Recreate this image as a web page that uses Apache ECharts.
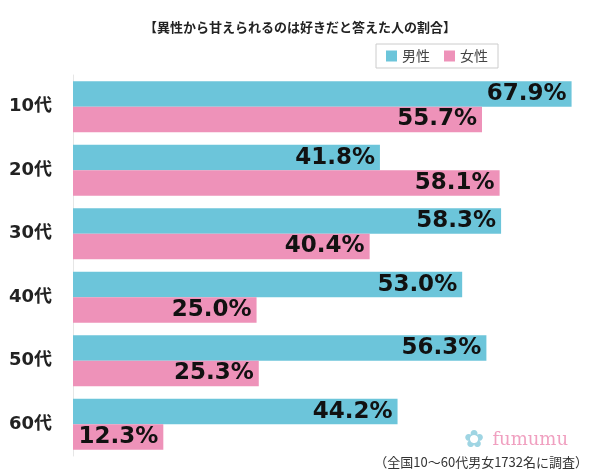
<!DOCTYPE html>
<html><head><meta charset="utf-8">
<script src="https://cdn.jsdelivr.net/npm/echarts@6/dist/echarts.min.js"></script>
<style>html,body{margin:0;padding:0;background:#fff}#c{width:600px;height:476px}</style>
</head><body><div id="c"></div>
<script>
const categories = ['10代','20代','30代','40代','50代','60代'];
const male = [67.9, 41.8, 58.3, 53.0, 56.3, 44.2];
const female = [55.7, 58.1, 40.4, 25.0, 25.3, 12.3];
const seriesNames = ['男性','女性'];
const titleText = '【異性から甘えられるのは好きだと答えた人の割合】';
const noteText = '（全国10〜60代男女1732名に調査）';

const chart = echarts.init(document.getElementById('c'));
const font = '"Noto Sans CJK JP", sans-serif';
const wide = '"DejaVu Sans", "Noto Sans CJK JP", sans-serif';
const lbl = {show:true, position:'insideRight', distance:5, color:'#111', fontSize:23, fontWeight:'bold', fontFamily:wide, formatter: p => p.value.toFixed(1)+'%'};
chart.setOption({
  animation:false,
  title:{text:titleText, left:'center', top:16, textStyle:{fontSize:13, fontWeight:'bold', color:'#222', fontFamily:font}},
  legend:{data:seriesNames, right:102, top:44, orient:'horizontal', itemWidth:11, itemHeight:11, itemGap:14, icon:'rect',
    borderColor:'#ccc', borderWidth:1, padding:[5,10,5,10], textStyle:{fontSize:14, color:'#444', fontFamily:font}},
  grid:{left:73, right:13, top:75, bottom:20, containLabel:false},
  xAxis:{type:'value', min:0, max:70, show:false},
  yAxis:{type:'category', data:categories, inverse:true,
    axisLine:{show:true, lineStyle:{color:'#e6e6e6'}}, axisTick:{show:false},
    axisLabel:{margin:21, fontSize:18, fontWeight:'bold', color:'#222', fontFamily:wide}},
  series:[
    {name:seriesNames[0], type:'bar', data:male, barGap:'0%', barCategoryGap:'20%', itemStyle:{color:'#6cc5da'}, label:lbl},
    {name:seriesNames[1], type:'bar', data:female, itemStyle:{color:'#ee92b9'}, label:lbl}
  ],
  graphic:[
    {type:'text', right:32, top:431, style:{text:'fumumu', fontSize:18, fontFamily:'"DejaVu Serif", serif', fill:'#f0a0c0'}},
    {type:'text', left:464, top:428, style:{text:'✿', fontSize:24, fill:'#9fd5e3'}},
    {type:'text', right:12, top:456, style:{text:noteText, fontSize:13, fontFamily:font, fill:'#333'}}
  ]
});
</script></body></html>
